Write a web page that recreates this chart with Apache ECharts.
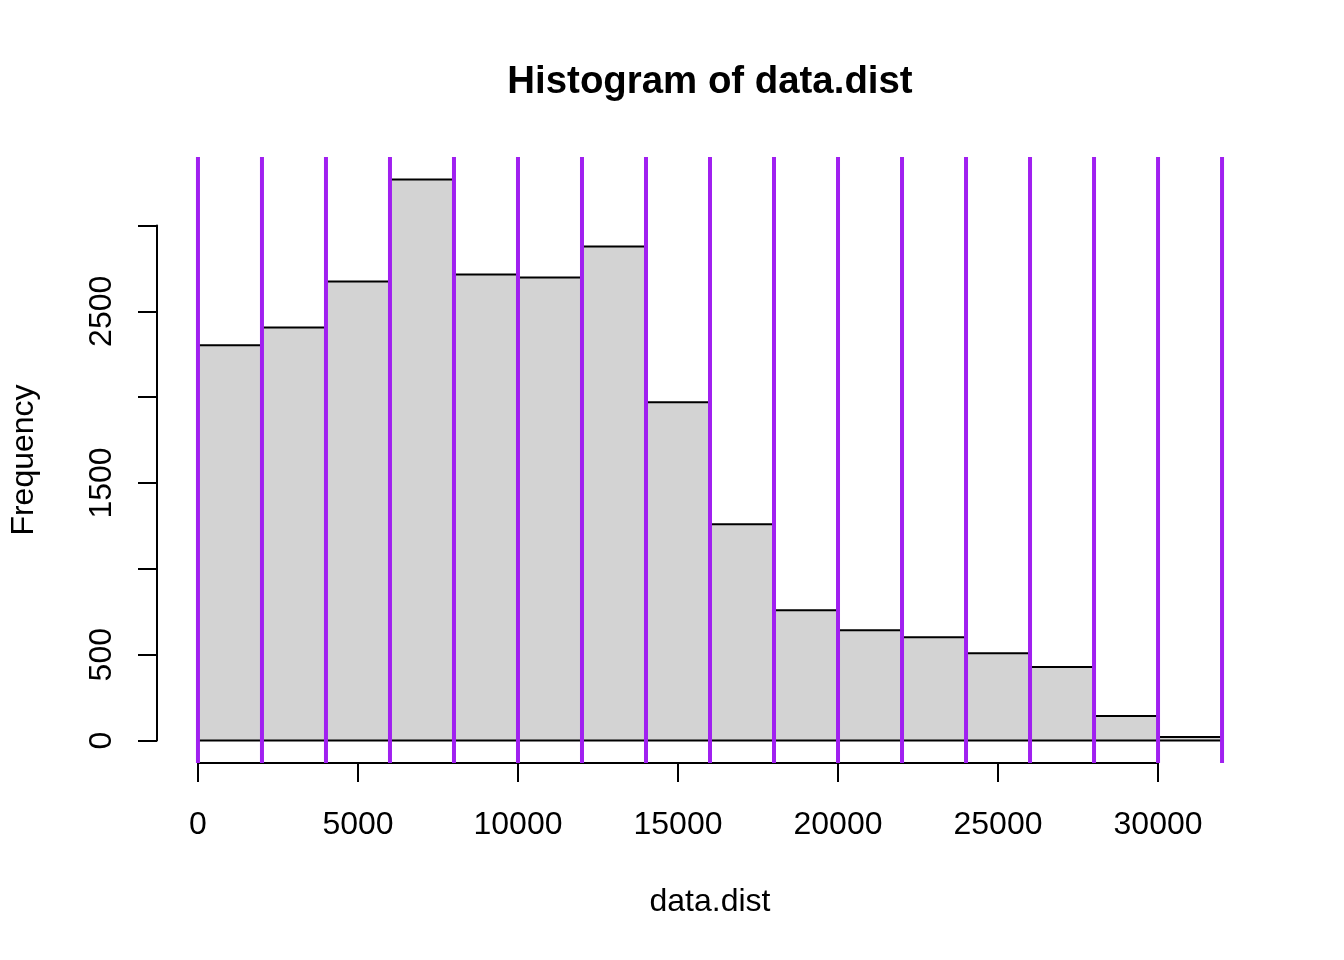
<!DOCTYPE html>
<html>
<head>
<meta charset="utf-8">
<script src="https://cdn.jsdelivr.net/npm/echarts@6/dist/echarts.min.js"></script>
<style>
html,body{margin:0;padding:0;background:#fff;}
#chart{width:1344px;height:960px;}
</style>
</head>
<body>
<div id="chart"></div>
<script>
// ---- data ----
const breaks = [0,2000,4000,6000,8000,10000,12000,14000,16000,18000,20000,22000,24000,26000,28000,30000,32000];
const counts = [2302,2406,2674,3268,2715,2697,2878,1970,1260,759,643,602,509,428,143,20];
const xTicks = [0,5000,10000,15000,20000,25000,30000];
const yTicks = [0,500,1000,1500,2000,2500,3000];
const yLabelsShown = [0,500,1500,2500];
const vLines = breaks.slice();

// ---- layout (R-style plot region) ----
const FONT = "'Liberation Sans', Arial, Helvetica, sans-serif";
const plot = {left:157, top:157, width:1106, height:606};
const xr = [breaks[0], breaks[breaks.length-1]];
const xPad = 0.04*(xr[1]-xr[0]);
const xMin = xr[0]-xPad, xMax = xr[1]+xPad;
const yr = [0, Math.max.apply(null, counts)];
const yPad = 0.04*(yr[1]-yr[0]);
const yMin = yr[0]-yPad, yMax = yr[1]+yPad;
const px = v => plot.left + (v-xMin)/(xMax-xMin)*plot.width;
const py = v => plot.top + plot.height - (v-yMin)/(yMax-yMin)*plot.height;

const xAx0 = px(xTicks[0]), xAx1 = px(xTicks[xTicks.length-1]);
const yAx0 = py(yTicks[0]), yAx1 = py(yTicks[yTicks.length-1]);

const binData = counts.map((c,i)=>[breaks[i], breaks[i+1], c]);

const chart = echarts.init(document.getElementById('chart'), null, {renderer:'canvas'});
chart.setOption({
  animation:false,
  backgroundColor:'#fff',
  title:{
    text:'Histogram of data.dist',
    left: plot.left + plot.width/2 - 5,
    textAlign:'center',
    top:58,
    textStyle:{fontFamily:FONT, fontSize:38.4, fontWeight:'bold', color:'#000'}
  },
  grid:[
    {left:plot.left, top:plot.top, width:plot.width, height:plot.height},
    {left:xAx0, top:plot.top, width:xAx1-xAx0, height:plot.height},
    {left:plot.left, top:yAx1, width:plot.width, height:yAx0-yAx1}
  ],
  xAxis:[
    {gridIndex:0, type:'value', min:xMin, max:xMax, show:true,
     axisLine:{show:false}, axisTick:{show:false}, axisLabel:{show:false}, splitLine:{show:false},
     name:'data.dist', nameLocation:'middle', nameGap:123,
     nameTextStyle:{fontFamily:FONT, fontSize:32, color:'#000'}},
    {gridIndex:1, type:'value', min:xTicks[0], max:xTicks[xTicks.length-1], interval:5000,
     axisLine:{show:true, onZero:false, lineStyle:{color:'#000', width:2}},
     axisTick:{show:true, length:19, lineStyle:{color:'#000', width:2}},
     axisLabel:{show:true, margin:46, fontFamily:FONT, fontSize:32, color:'#000', showMinLabel:true, showMaxLabel:true,
       formatter: v => String(v)},
     splitLine:{show:false}},
    {gridIndex:2, type:'value', show:false, min:0, max:1}
  ],
  yAxis:[
    {gridIndex:0, type:'value', min:yMin, max:yMax, show:true,
     axisLine:{show:false}, axisTick:{show:false}, axisLabel:{show:false}, splitLine:{show:false},
     name:'Frequency', nameLocation:'middle', nameRotate:90, nameGap:117,
     nameTextStyle:{fontFamily:FONT, fontSize:32, color:'#000'}},
    {gridIndex:1, type:'value', show:false, min:0, max:1},
    {gridIndex:2, type:'value', min:yTicks[0], max:yTicks[yTicks.length-1], interval:500,
     axisLine:{show:true, onZero:false, lineStyle:{color:'#000', width:2}},
     axisTick:{show:true, length:19, lineStyle:{color:'#000', width:2}},
     axisLabel:{show:true, rotate:90, margin:39, fontFamily:FONT, fontSize:32, color:'#000',
       formatter: v => yLabelsShown.indexOf(v) >= 0 ? String(v) : ''},
     splitLine:{show:false}}
  ],
  series:[
    {
      type:'custom', xAxisIndex:0, yAxisIndex:0,
      data: binData,
      renderItem:(params, api)=>{
        const p0 = api.coord([api.value(0), 0]);
        const p1 = api.coord([api.value(1), api.value(2)]);
        return {type:'rect',
          shape:{x:p0[0], y:p1[1], width:p1[0]-p0[0], height:p0[1]-p1[1]},
          style:{fill:'#D3D3D3', stroke:'#000', lineWidth:2}};
      }
    },
    {
      type:'custom', xAxisIndex:0, yAxisIndex:0,
      data: vLines.map(v=>[v]),
      renderItem:(params, api)=>{
        const a = api.coord([api.value(0), yMin]);
        const b = api.coord([api.value(0), yMax]);
        return {type:'line', shape:{x1:a[0], y1:a[1], x2:b[0], y2:b[1]},
          style:{stroke:'#A020F0', lineWidth:4}};
      }
    }
  ]
});
</script>
</body>
</html>
